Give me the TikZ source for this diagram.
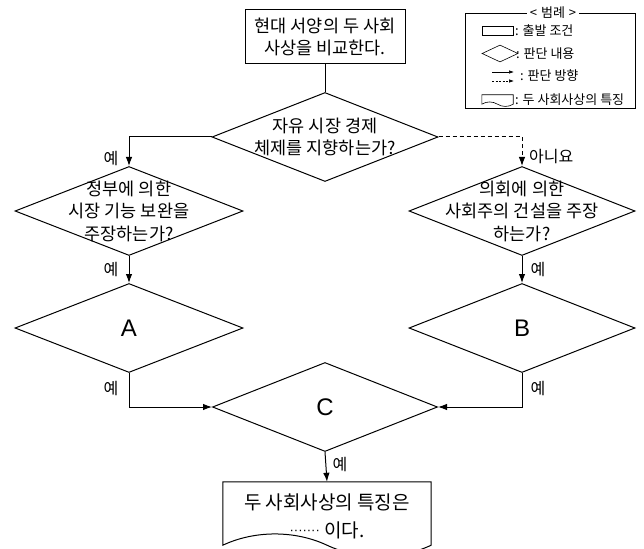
\documentclass[tikz,border=0pt]{standalone}
\usepackage{fontspec}
\setmainfont{Noto Sans CJK KR}
\newfontfamily\latinfont{Liberation Sans}
\usetikzlibrary{shapes.geometric,arrows.meta}

\begin{document}
\begin{tikzpicture}[x=1pt, y=-1pt, >={Latex[length=9pt,width=6.5pt]},
  box/.style={draw, line width=1pt, minimum width=160pt, minimum height=54pt},
  ask/.style={draw, diamond, line width=1pt, minimum width=226pt, minimum height=89pt, inner sep=0pt},
  asktext/.style={align=center, inner sep=0pt, font=\fontsize{17.5}{22.5}\selectfont},
  letter/.style={font=\latinfont\fontsize{24}{24}\selectfont},
  yes/.style={inner sep=0pt, font=\fontsize{16}{16}\selectfont},
  link/.style={line width=1pt},
  lgtext/.style={right, inner sep=0pt, font=\fontsize{13}{14}\selectfont},
  lgarrow/.style={line width=0.6pt, -{Latex[length=5pt,width=3.5pt]}}]
\useasboundingbox (0,0) rectangle (644,548);
% start
\node[box] (start) at (325,37) {};
\node[asktext] (startt) at (start) {현대 서양의 두 사회\\사상을 비교한다.};
% questions
\node[ask] (q1) at (325,137) {};
\node[asktext] (q1t) at (q1) {자유 시장 경제\\체제를 지향하는가?};
\node[ask, minimum width=228pt] (q2) at (129,211) {};
\node[asktext] (q2t) at (q2) {정부에 의한\\시장 기능 보완을\\주장하는가?};
\node[ask] (q3) at (522,211) {};
\node[asktext] (q3t) at (q3) {의회에 의한\\사회주의 건설을 주장\\하는가?};
\node[ask, minimum width=228pt] (qa) at (129,328) {};
\node[letter] (qat) at (qa) {A};
\node[ask] (qb) at (522,328) {};
\node[letter] (qbt) at (qb) {B};
\node[ask, minimum width=225pt] (qc) at (325,407) {};
\node[letter] (qct) at (qc) {C};
% result
\node[minimum width=208pt, minimum height=63pt, inner sep=0pt] (doc) at (327,513.5) {};
\draw[line width=1pt] (doc.north west) -- (doc.north east) -- (doc.south east)
  .. controls +(-32,15) and +(32,15) .. (doc.south)
  .. controls +(-32,-15) and +(32,-15) .. (doc.south west) -- cycle;
\node[align=center, inner sep=0pt, font=\fontsize{19}{28}\selectfont] (doct) at (327,516)
  {두 사회사상의 특징은\\\raisebox{3pt}{\latinfont\fontsize{13}{13}\selectfont ·······} 이다.};
% connectors
\draw[link] (start) -- (q1);
\draw[link, ->] (q1.west) -| (q2.north);
\draw[link, ->, dash pattern=on 4pt off 3pt] (q1.east) -| (q3.north);
\draw[link, ->] (q2.south) -- (qa.north);
\draw[link, ->] (q3.south) -- (qb.north);
\draw[link, ->] (qa.south) |- (qc.west);
\draw[link, ->] (qb.south) |- (qc.east);
\draw[link, ->] (qc.south) -- (doc.north);
% answers
\node[yes] (y1) at (111,159) {예};
\node[yes] (y2) at (111,270) {예};
\node[yes] (y3) at (111,389) {예};
\node[yes, anchor=west] (no1) at (529,157) {아니요};
\node[yes] (y4) at (538,270) {예};
\node[yes] (y5) at (538,389) {예};
\node[yes] (y6) at (340,465) {예};
% legend
\node[draw, line width=0.7pt, minimum width=170pt, minimum height=95pt] (legend) at (550,60.5) {};
\node[fill=white, inner xsep=3pt, inner ysep=1pt, font=\fontsize{13}{14}\selectfont] (lgtitle) at (553,13) {<\hspace{4pt}범례\hspace{4pt}>};
\node[draw, line width=0.6pt, minimum width=31pt, minimum height=9pt, inner sep=0pt] (lgbox) at (497.5,31) {};
\node[lgtext] (lgboxt) at (515,31) {: 출발 조건};
\node[draw, diamond, line width=0.6pt, minimum width=36pt, minimum height=17pt, inner sep=0pt] (lgdia) at (500,53.5) {};
\node[lgtext] (lgdiat) at (516,53.5) {: 판단 내용};
\coordinate (lga1) at (492,72);
\coordinate (lga2) at (514,72);
\coordinate (lgb1) at (492,81);
\coordinate (lgb2) at (514,81);
\draw[lgarrow] (lga1) -- (lga2);
\draw[lgarrow, dash pattern=on 2pt off 1.5pt] (lgb1) -- (lgb2);
\node[lgtext] (lgarrt) at (520,76) {: 판단 방향};
\node[minimum width=31pt, minimum height=9pt, inner sep=0pt] (lgdoc) at (497.5,99.5) {};
\draw[line width=0.6pt] (lgdoc.north west) -- (lgdoc.north east) -- (lgdoc.south east)
  .. controls +(-5,3) and +(5,3) .. (lgdoc.south)
  .. controls +(-5,-3) and +(5,-3) .. (lgdoc.south west) -- cycle;
\node[lgtext] (lgdoct) at (515,100) {: 두 사회사상의 특징};
\end{tikzpicture}
\end{document}
